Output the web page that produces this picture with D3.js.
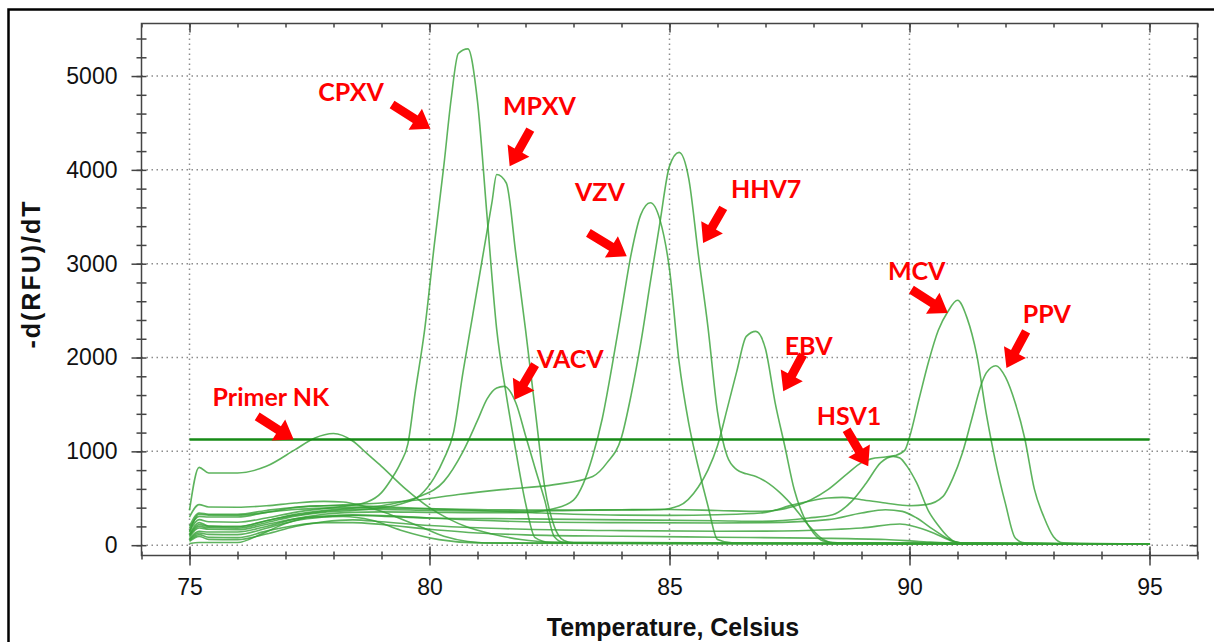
<!DOCTYPE html>
<html lang="en">
<head>
<meta charset="UTF-8">
<title>Melt curves -d(RFU)/dT</title>
<script src="https://cdn.jsdelivr.net/npm/d3@7"></script>
<style>
    body { margin: 0; background: #fff; }
    svg { display: block; }
    .axis path.domain { display: none; }
    .axis line { stroke: #444; stroke-width: 1.5; }
    .axis .tick text { font-family: "Liberation Sans", Arial, sans-serif; font-size: 23px; fill: #111; }
    .title { font-family: "Liberation Sans", Arial, sans-serif; font-weight: bold; font-size: 25px; fill: #111; }
    .callout { font-family: Lato, "Open Sans", sans-serif; font-weight: 700; font-size: 25px; fill: #ff0000; }
</style>
</head>
<body>
<svg width="1214" height="642"></svg>
<script>
// ---- data (temperature in Celsius, -d(RFU)/dT) ----
const xMajor = [75, 80, 85, 90, 95];
const xMinor = d3.range(74, 97, 1);
const yMajor = [0, 1000, 2000, 3000, 4000, 5000];
const yMinor = d3.range(0, 5600, 200);

const thresholdValue = 1125;
const thresholdRange = [75, 95];

const primerNK = [[75,371],[75.2,829],[75.4,770],[76,770],[76.6,840],[77.2,1018],[77.6,1140],[78,1190],[78.4,1110],[78.7,975],[79,840],[79.5,600],[80,400],[80.4,280],[80.8,190],[81.3,120],[81.9,60],[82.6,30],[84,18],[95,12]];
const cpxv = [[75,150],[75.2,272],[75.4,250],[76,245],[76.6,290],[77.2,350],[77.8,390],[78.3,420],[78.7,460],[79,560],[79.2,700],[79.4,880],[79.55,1080],[79.7,1620],[79.9,2300],[80.1,3200],[80.3,4050],[80.45,4750],[80.6,5240],[80.8,5290],[81,4730],[81.2,3500],[81.4,2300],[81.6,1600],[81.8,1000],[82,450],[82.2,80],[82.5,30],[84,20],[95,10]];
const mpxv = [[75,100],[75.2,200],[75.4,185],[76,180],[76.6,240],[77.2,310],[77.8,350],[78.4,370],[79,400],[79.4,440],[79.8,530],[80.1,720],[80.3,920],[80.5,1200],[80.7,1850],[80.9,2450],[81.1,3050],[81.3,3650],[81.4,3950],[81.6,3860],[81.8,3100],[82,2300],[82.2,1450],[82.4,620],[82.6,200],[82.8,50],[83,25],[95,10]];
const vacv = [[75,110],[75.2,219],[75.4,200],[76,194],[76.6,260],[77.2,330],[77.8,370],[78.4,395],[79,420],[79.4,460],[79.8,520],[80.3,680],[80.7,1000],[81,1330],[81.2,1560],[81.4,1676],[81.55,1693],[81.8,1516],[82,1170],[82.2,820],[82.4,480],[82.6,90],[82.8,30],[95,10]];
const vzv = [[75,70],[75.2,147],[75.4,140],[76,140],[76.6,200],[77.2,280],[77.8,330],[78.4,350],[79,355],[80,350],[81,345],[82,350],[82.6,390],[83,480],[83.2,650],[83.4,950],[83.6,1350],[83.8,1900],[84,2500],[84.2,3100],[84.4,3520],[84.6,3650],[84.8,3470],[85,2940],[85.2,1950],[85.4,1300],[85.6,830],[85.8,420],[86,60],[86.3,25],[95,10]];
const hhv7 = [[75,180],[75.2,307],[75.4,300],[76,300],[76.6,350],[77.2,400],[77.8,420],[78.4,435],[79,450],[79.8,485],[80.6,540],[81.5,592],[82.6,645],[83.4,733],[83.7,880],[84,1150],[84.2,1600],[84.4,2150],[84.6,2800],[84.8,3435],[85,4040],[85.2,4187],[85.4,3910],[85.6,3100],[85.8,2330],[86,1420],[86.2,950],[86.4,805],[86.6,760],[86.8,733],[87,680],[87.3,560],[87.6,400],[87.9,210],[88.2,60],[88.4,25],[95,10]];
const ebv = [[75,120],[75.2,240],[75.4,205],[76,200],[76.6,260],[77.2,320],[77.8,360],[78.4,380],[79,380],[80,370],[81,365],[82,365],[83,370],[84,375],[84.8,380],[85.2,420],[85.6,620],[85.8,800],[86,1060],[86.2,1450],[86.4,1850],[86.6,2226],[86.8,2279],[87,2090],[87.2,1520],[87.4,1060],[87.6,590],[87.8,300],[88,130],[88.2,45],[88.5,25],[95,10]];
const hsv1 = [[75,90],[75.2,183],[75.4,170],[76,165],[76.6,220],[77.2,280],[77.8,310],[78.4,320],[79,310],[80,290],[82,280],[84,270],[86,260],[86.9,254],[87.9,290],[88.4,325],[88.8,470],[89.1,663],[89.4,880],[89.66,947],[89.8,929],[89.95,840],[90.15,663],[90.4,360],[90.6,210],[90.8,90],[91,25],[95,10]];
const mcv = [[75,140],[75.2,330],[75.4,320],[76,318],[76.6,350],[77.2,380],[77.8,395],[78.4,400],[79,395],[80,385],[81,380],[82,375],[83,375],[84,378],[85,380],[86,370],[86.9,360],[87.6,414],[88.3,592],[88.7,760],[89,880],[89.2,920],[89.5,940],[89.7,955],[89.9,1010],[90,1150],[90.2,1560],[90.4,1960],[90.6,2290],[90.8,2490],[91,2610],[91.2,2420],[91.4,2030],[91.6,1400],[91.8,870],[92,440],[92.2,80],[92.4,25],[95,10]];
const ppv = [[75,200],[75.2,343],[75.4,330],[76,328],[76.6,370],[77.2,405],[77.8,420],[78.4,420],[79,410],[80,390],[81,370],[82,350],[83,330],[84,320],[85,318],[86,325],[86.9,343],[87.6,432],[88.3,503],[88.6,510],[89,485],[89.5,450],[90,421],[90.35,432],[90.7,520],[90.9,710],[91.1,980],[91.3,1350],[91.5,1720],[91.6,1836],[91.8,1913],[92,1790],[92.2,1520],[92.4,1140],[92.6,600],[92.8,300],[93,90],[93.2,25],[95,12]];
const sampleF = [[75,60],[75.2,130],[75.4,115],[76,112],[76.6,180],[77.2,260],[77.8,300],[78.4,320],[79,315],[80,290],[81,265],[82,250],[84,240],[86,237],[87,240],[88.3,272],[89,343],[89.5,378],[89.85,360],[90.15,290],[90.5,165],[90.9,45],[91.2,20],[95,10]];
const sampleG = [[75,40],[75.2,94],[75.4,62],[76,59],[76.6,120],[77.2,200],[77.8,250],[78.4,270],[79,250],[80,210],[81,185],[82,170],[84,155],[86,148],[87,150],[88.3,165],[89,183],[89.8,226],[90.1,200],[90.5,130],[90.9,41],[91.2,18],[95,10]];
const neg1 = [[75,300],[75.2,432],[75.4,407],[76,405],[76.6,420],[77.2,450],[77.8,467],[78.2,460],[78.6,420],[79.1,343],[79.5,260],[79.8,200],[80.3,94],[80.8,40],[81.5,20],[95,10]];
const neg2 = [[75,18],[75.2,28],[76,28],[76.5,120],[77,230],[77.6,300],[78.2,305],[78.8,265],[79.4,160],[80.2,59],[81,25],[95,10]];
const neg3 = [[75,50],[75.2,112],[75.4,85],[76,80],[76.6,150],[77.2,210],[77.8,240],[78.4,240],[79,220],[80,170],[81,130],[82,110],[84,95],[86,85],[88,75],[89.5,60],[90.2,40],[91,20],[95,10]];

const curves = [primerNK, cpxv, mpxv, vacv, vzv, hhv7, ebv, hsv1, mcv, ppv, sampleF, sampleG, neg1, neg2, neg3];

// callouts: label text, label anchor, arrow tail, arrow tip (data units)
const calloutNames = ["Primer NK", "CPXV", "MPXV", "VACV", "VZV", "HHV7", "EBV", "HSV1", "MCV", "PPV"];
const calloutLabel = [[75.48,1487],[77.68,4739],[81.53,4590],[82.24,1892],[83.03,3672],[86.28,3704],[87.40,2031],[88.07,1285],[89.55,2830],[92.36,2372]];
const calloutTail = [[76.41,1373],[79.22,4696],[82.10,4429],[82.20,1924],[83.31,3328],[86.12,3595],[87.78,2031],[88.69,1231],[90.04,2724],[92.43,2279]];
const calloutTip = [[77.17,1125],[80.02,4437],[81.67,4038],[81.77,1551],[84.11,3079],[85.70,3221],[87.37,1640],[89.14,840],[90.80,2475],[92.02,1889]];

// ---- drawing ----
const svg = d3.select("svg");
const x = d3.scaleLinear().domain([74, 96]).range([141.5, 1197.5]);
const y = d3.scaleLinear().domain([-110, 5560]).range([555.5, 23.5]);
const [plotLeft, plotRight] = x.range();
const [plotBottom, plotTop] = y.range();

// outer picture frame
svg.append("rect")
    .attr("x", 8.5).attr("y", 9.5)
    .attr("width", 1300).attr("height", 1000)
    .attr("fill", "none").attr("stroke", "#000").attr("stroke-width", 2.5);

// dotted grid
const grid = svg.append("g")
    .attr("stroke", "#8c8c8c").attr("stroke-width", 1.5).attr("stroke-dasharray", "1.5,3.5");
grid.selectAll(".gx").data(xMajor).join("line").attr("class", "gx")
    .attr("x1", d => x(d)).attr("x2", d => x(d)).attr("y1", plotTop).attr("y2", plotBottom);
grid.selectAll(".gy").data(yMajor).join("line").attr("class", "gy")
    .attr("x1", plotLeft).attr("x2", plotRight).attr("y1", d => y(d)).attr("y2", d => y(d));

// axes (ticks cross the axis line on left/bottom, point inward on top/right)
function addAxis(axis, tx, ty) {
    return svg.append("g").attr("class", "axis")
        .attr("transform", `translate(${tx},${ty})`).call(axis);
}
addAxis(d3.axisBottom(x).tickValues(xMinor).tickSize(4).tickFormat(""), 0, plotBottom);
addAxis(d3.axisTop(x).tickValues(xMinor).tickSize(4).tickFormat(""), 0, plotBottom);
addAxis(d3.axisTop(x).tickValues(xMajor).tickSize(9).tickFormat(""), 0, plotBottom);
addAxis(d3.axisBottom(x).tickValues(xMajor).tickSize(10).tickPadding(13).tickFormat(d3.format("d")), 0, plotBottom);
addAxis(d3.axisTop(x).tickValues(xMinor).tickSize(-4).tickFormat(""), 0, plotTop);
addAxis(d3.axisTop(x).tickValues(xMajor).tickSize(-9).tickFormat(""), 0, plotTop);

addAxis(d3.axisLeft(y).tickValues(yMinor).tickSize(5).tickFormat(""), plotLeft, 0);
addAxis(d3.axisRight(y).tickValues(yMinor).tickSize(5).tickFormat(""), plotLeft, 0);
addAxis(d3.axisLeft(y).tickValues(yMajor).tickSize(10).tickPadding(14).tickFormat(d3.format("d")), plotLeft, 0);
addAxis(d3.axisRight(y).tickValues(yMinor).tickSize(-4).tickFormat(""), plotRight, 0);
addAxis(d3.axisRight(y).tickValues(yMajor).tickSize(-8).tickFormat(""), plotRight, 0);

// plot frame
svg.append("rect")
    .attr("x", plotLeft).attr("y", plotTop)
    .attr("width", plotRight - plotLeft).attr("height", plotBottom - plotTop)
    .attr("fill", "none").attr("stroke", "#444").attr("stroke-width", 1.5);

// melt curves
const line = d3.line()
    .x(d => x(d[0]))
    .y(d => y(d[1]))
    .curve(d3.curveMonotoneX);

svg.append("g")
    .selectAll("path")
    .data(curves)
    .join("path")
    .attr("d", line)
    .attr("fill", "none")
    .attr("stroke", "#34a034")
    .attr("stroke-opacity", 0.8)
    .attr("stroke-width", 1.6);

// threshold line
svg.append("line")
    .attr("x1", x(thresholdRange[0])).attr("x2", x(thresholdRange[1]))
    .attr("y1", y(thresholdValue)).attr("y2", y(thresholdValue))
    .attr("stroke", "#168a16").attr("stroke-width", 2.5);

// axis titles
svg.append("text").attr("class", "title")
    .attr("x", 673).attr("y", 636)
    .attr("text-anchor", "middle")
    .text("Temperature, Celsius");

svg.append("text").attr("class", "title")
    .attr("transform", "translate(40,274) rotate(-90)")
    .attr("text-anchor", "middle")
    .attr("letter-spacing", 2)
    .text("-d(RFU)/dT");

// red callouts
function arrowPath(tail, tip) {
    const ax = x(tail[0]), ay = y(tail[1]), bx = x(tip[0]), by = y(tip[1]);
    const len = Math.hypot(bx - ax, by - ay);
    const ux = (bx - ax) / len, uy = (by - ay) / len, nx = -uy, ny = ux;
    const w = 4.5, hw = 12.5, hl = 18;
    const cx = bx - ux * hl, cy = by - uy * hl;
    const pts = [
        [ax + nx * w, ay + ny * w], [cx + nx * w, cy + ny * w], [cx + nx * hw, cy + ny * hw],
        [bx, by],
        [cx - nx * hw, cy - ny * hw], [cx - nx * w, cy - ny * w], [ax - nx * w, ay - ny * w]
    ];
    return d3.line()(pts) + "Z";
}

const callouts = svg.append("g");
callouts.selectAll("path")
    .data(calloutNames)
    .join("path")
    .attr("d", (d, i) => arrowPath(calloutTail[i], calloutTip[i]))
    .attr("fill", "#ff0000");

callouts.selectAll("text")
    .data(calloutNames)
    .join("text")
    .attr("class", "callout")
    .attr("x", (d, i) => x(calloutLabel[i][0]))
    .attr("y", (d, i) => y(calloutLabel[i][1]))
    .text(d => d);
</script>
</body>
</html>
